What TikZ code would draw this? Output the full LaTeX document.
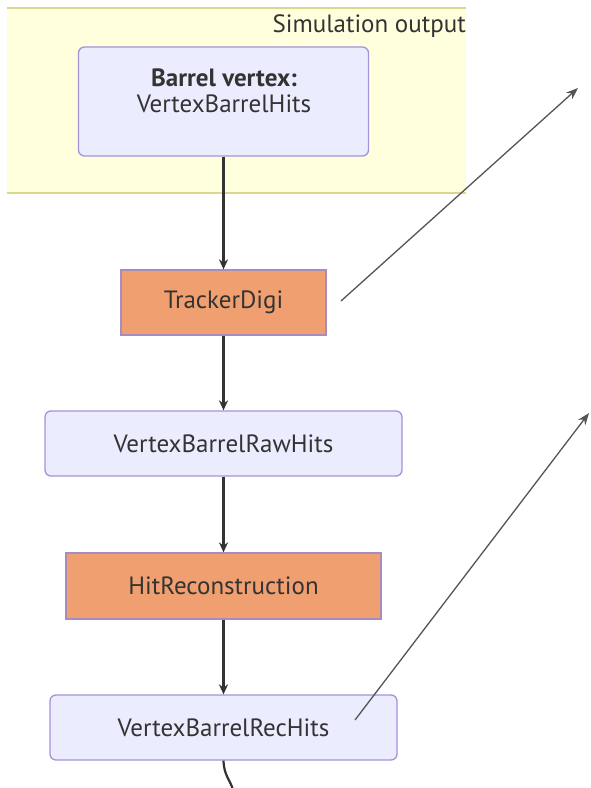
\documentclass[tikz,border=0pt]{standalone}
\usepackage{fontspec}
\setmainfont{PT Sans}
\usetikzlibrary{arrows.meta}
\definecolor{clusterfill}{HTML}{FFFFDE}
\definecolor{clusterline}{HTML}{D8D890}
\definecolor{datafill}{HTML}{ECECFF}
\definecolor{dataline}{HTML}{A593D8}
\definecolor{algofill}{HTML}{F0A070}
\definecolor{algoline}{HTML}{A88CC0}
\definecolor{txt}{HTML}{333333}
\definecolor{flow}{HTML}{333333}
\definecolor{link}{HTML}{555555}
\tikzset{
  databox/.style={draw=dataline, fill=datafill, line width=1.3pt, rounded corners=6pt, inner sep=0pt},
  algobox/.style={draw=algoline, fill=algofill, line width=1.3pt, inner sep=0pt},
  lbl/.style={text=txt, font=\fontsize{25}{26}\selectfont, inner sep=0pt},
  flowarrow/.style={draw=flow, line width=2.2pt, -{Stealth[length=10pt,width=9pt]}},
  linkarrow/.style={draw=link, line width=1.3pt, -{Stealth[length=12pt,width=9pt]}}
}
\begin{document}
\begin{tikzpicture}[x=1pt,y=-1pt]
\useasboundingbox (0,0) rectangle (590,788);
\fill[white] (0,0) rectangle (590,788);

% cluster for the simulation output
\path[fill=clusterfill] (7,8) rectangle (466,193);
\draw[clusterline, line width=1.3pt] (7,8) -- (466,8);
\draw[clusterline, line width=1.3pt] (7,193) -- (466,193);
\node[lbl, anchor=east] (simtitle) at (466,26) {Simulation output};

% data collections and algorithms
\node[databox, minimum width=290pt, minimum height=109pt] (hits) at (223.5,101.5) {};
\node[lbl, align=center] (hitstext) at (224,91) {{\bfseries Barrel vertex:}\\VertexBarrelHits};

\node[algobox, minimum width=205pt, minimum height=65pt, lbl] (digi) at (223.5,302.5) {TrackerDigi};
\node[databox, minimum width=357pt, minimum height=65pt, lbl] (raw) at (223.5,443.5) {VertexBarrelRawHits};
\node[algobox, minimum width=315pt, minimum height=66pt, lbl] (reco) at (223.5,586) {HitReconstruction};
\node[databox, minimum width=347pt, minimum height=65pt, lbl] (rec) at (223.5,727.5) {VertexBarrelRecHits};

% data flow
\draw[flowarrow] (hits.south) -- (digi.north);
\draw[flowarrow] (digi.south) -- (raw.north);
\draw[flowarrow] (raw.south) -- (reco.north);
\draw[flowarrow] (reco.south) -- (rec.north);
\coordinate (down) at (233,790);
\draw[flow, line width=2.2pt] (rec.south) .. controls (224,776) and (230,779) .. (down);

% links to the detailed views
\coordinate (digilink) at (578,88);
\coordinate (reclink) at (589,413);
\draw[linkarrow] (341,301) -- (digilink);
\draw[linkarrow] (355,720) -- (reclink);
\end{tikzpicture}
\end{document}
